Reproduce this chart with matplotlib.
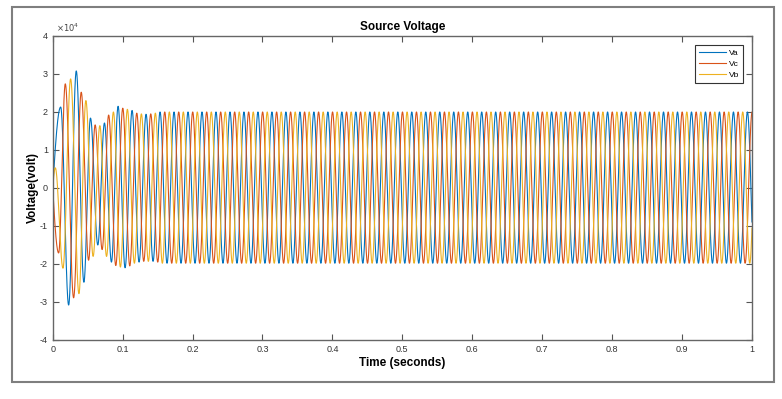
import numpy as np
import matplotlib
matplotlib.use("Agg")
from matplotlib import pyplot as plt
from matplotlib.patches import Rectangle
from matplotlib.ticker import FuncFormatter

plt.rcParams['font.family'] = ['Liberation Sans', 'DejaVu Sans']
plt.rcParams['axes.unicode_minus'] = False

# Extrema (time s, value x1e4 V)
va_t = [0.0114, 0.0228, 0.0337, 0.0446, 0.0540, 0.0645, 0.0740, 0.0840,
        0.0935, 0.1035, 0.1135, 0.1235, 0.1335, 0.1435]
va_v = [2.13, -3.08, 3.08, -2.48, 1.84, -1.50, 1.71, -1.95,
        2.15, -2.10, 2.04, -1.95, 1.94, -1.93]

vc_t = [0.0085, 0.0180, 0.0299, 0.0408, 0.0513, 0.0607, 0.0707, 0.0800,
        0.0902, 0.1002, 0.1102, 0.1202, 0.1302, 0.1402, 0.1502]
vc_v = [-1.71, 2.74, -2.89, 2.52, -1.90, 1.66, -1.62, 1.92,
        -2.04, 2.10, -2.05, 1.97, -1.93, 1.95, -1.95]

vb_t = [0.0037, 0.0147, 0.0256, 0.0375, 0.0474, 0.0578, 0.0674, 0.0770,
        0.0868, 0.0968, 0.1068, 0.1168, 0.1268, 0.1368, 0.1468]
vb_v = [0.53, -2.11, 2.87, -2.78, 2.30, -1.80, 1.64, -1.80,
        2.00, -2.08, 2.07, -1.98, 1.95, -1.93, 1.97]

# steady state after the transient
freq = 50.0
steady_peak = 2.0
steady_trough = -1.98

labels = ['Va', 'Vc', 'Vb']
colors = ['#0072BD', '#D95319', '#EDB120']
xtick_vals = [0, 0.1, 0.2, 0.3, 0.4, 0.5, 0.6, 0.7, 0.8, 0.9, 1]
ytick_vals = [-4, -3, -2, -1, 0, 1, 2, 3, 4]  # x1e4


def build_wave(ext_t, ext_v, t):
    # continue extrema every half period up to the end
    ext_t = list(ext_t)
    ext_v = list(ext_v)
    half = 0.5 / freq
    while ext_t[-1] < t[-1] + half:
        ext_t.append(ext_t[-1] + half)
        ext_v.append(steady_peak if ext_v[-1] < 0 else steady_trough)
    v = np.zeros_like(t)
    # quarter sine from zero to first extremum
    m = t <= ext_t[0]
    v[m] = ext_v[0] * np.sin(np.pi / 2 * t[m] / ext_t[0])
    # half cosine between successive extrema
    for i in range(len(ext_t) - 1):
        t0, t1 = ext_t[i], ext_t[i + 1]
        a, b = ext_v[i], ext_v[i + 1]
        m = (t > t0) & (t <= t1)
        v[m] = (a + b) / 2 + (a - b) / 2 * np.cos(np.pi * (t[m] - t0) / (t1 - t0))
    return v * 1e4


t = np.linspace(0, 1, 20001)
waves = [build_wave(va_t, va_v, t), build_wave(vc_t, vc_v, t), build_wave(vb_t, vb_v, t)]

fig = plt.figure(figsize=(7.82, 3.99), dpi=100)
ax = fig.add_axes([0.0674, 0.1479, 0.8942, 0.7619])

for w, lab, c in zip(waves, labels, colors):
    ax.plot(t, w, color=c, lw=0.8, label=lab)

ax.set_xlim(0, 1)
ax.set_ylim(-4e4, 4e4)
ax.set_xticks(xtick_vals)
ax.xaxis.set_major_formatter(FuncFormatter(lambda x, p: '%g' % x))
ax.set_yticks([v * 1e4 for v in ytick_vals])
ax.yaxis.set_major_formatter(FuncFormatter(lambda y, p: '%g' % (y / 1e4)))
ax.text(0.005, 1.008, r'$\times10^{4}$', transform=ax.transAxes, fontsize=6,
        color='#444444', ha='left', va='bottom')

ax.tick_params(direction='in', length=4, width=0.8, labelsize=6.5,
               colors='#555555', labelcolor='#333333', top=True, right=True)
for s in ax.spines.values():
    s.set_color('#666666')
    s.set_linewidth(1.0)

ax.set_title('Source Voltage', fontsize=8.5, fontweight='bold', pad=4)
ax.set_xlabel('Time (seconds)', fontsize=8.5, fontweight='bold', labelpad=2)
ax.set_ylabel('Voltage(volt)', fontsize=8.5, fontweight='bold')
ax.yaxis.set_label_coords(-0.019, 0.5)

leg = ax.legend(loc='upper right', fontsize=6, handlelength=3.3, borderpad=0.45,
                labelspacing=0.4, handletextpad=0.3, fancybox=False,
                framealpha=1, borderaxespad=1.1)
leg.get_frame().set_edgecolor('#333333')
leg.get_frame().set_linewidth(0.8)

# window frame around the figure
fig.patches.append(Rectangle((12 / 782, 1 - 382 / 399), 762 / 782, 375 / 399,
                             transform=fig.transFigure, fill=False,
                             ec='#7f7f7f', lw=1.5))

fig.savefig('out.png', dpi=100)
